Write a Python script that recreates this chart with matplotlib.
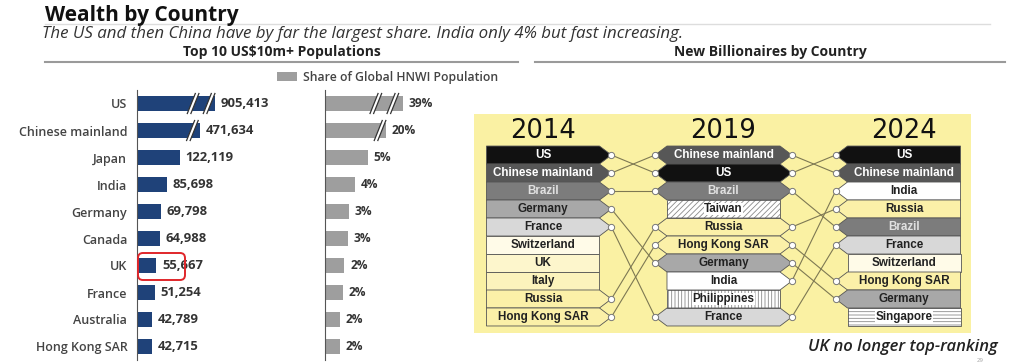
import numpy as np
import matplotlib
matplotlib.use("Agg")
import matplotlib.pyplot as plt
from matplotlib.patches import Polygon, FancyBboxPatch
from matplotlib.lines import Line2D
from matplotlib.transforms import IdentityTransform

# ---- data ----
countries = ["US", "Chinese mainland", "Japan", "India", "Germany", "Canada",
             "UK", "France", "Australia", "Hong Kong SAR"]
populations = [905413, 471634, 122119, 85698, 69798, 64988, 55667, 51254, 42789, 42715]
shares = [39, 20, 5.3, 3.7, 3.0, 2.8, 2.4, 2.2, 1.8, 1.8]

years = ["2014", "2019", "2024"]
rank_2014 = ["US", "Chinese mainland", "Brazil", "Germany", "France",
             "Switzerland", "UK", "Italy", "Russia", "Hong Kong SAR"]
rank_2019 = ["Chinese mainland", "US", "Brazil", "Taiwan", "Russia",
             "Hong Kong SAR", "Germany", "India", "Philippines", "France"]
rank_2024 = ["US", "Chinese mainland", "India", "Russia", "Brazil",
             "France", "Switzerland", "Hong Kong SAR", "Germany", "Singapore"]
rankings = [rank_2014, rank_2019, rank_2024]

# fill, text colour, hatch
box_style = {
    "US": ("#111111", "white", None),
    "Chinese mainland": ("#575757", "white", None),
    "Brazil": ("#7c7c7c", "#e0e0e0", None),
    "Germany": ("#a8a8a8", "#222222", None),
    "France": ("#d8d8d8", "#222222", None),
    "Switzerland": ("#fffbe8", "#222222", None),
    "UK": ("#fdf6cc", "#222222", None),
    "Italy": ("#fcf3bc", "#222222", None),
    "Russia": ("#fbf0a8", "#222222", None),
    "Hong Kong SAR": ("#fbf0a8", "#222222", None),
    "Taiwan": ("white", "#222222", "//////"),
    "India": ("white", "#222222", None),
    "Philippines": ("white", "#222222", "|||||"),
    "Singapore": ("white", "#222222", "-----"),
}

W, H = 1024, 364
fig = plt.figure(figsize=(W / 100, H / 100), dpi=100)
plt.rcParams["hatch.linewidth"] = 0.6


def fx(px):
    return px / W


def fy(py):
    return 1 - py / H


def broken(b, k):
    def fwd(x):
        x = np.asarray(x, float)
        return np.where(x <= b, x, b + (x - b) * k)

    def inv(y):
        y = np.asarray(y, float)
        return np.where(y <= b, y, b + (y - b) / k)
    return fwd, inv


# ---- headers ----
fig.text(fx(45), fy(15), "Wealth by Country", family="Open Sans", weight="bold",
         fontsize=15, color="#111111", va="center")
fig.text(fx(42), fy(34), "The US and then China have by far the largest share. India only 4% but fast increasing.",
         family="Open Sans", style="italic", fontsize=12.2, color="#333333", va="center")
fig.add_artist(Line2D([fx(45), fx(990)], [fy(24), fy(24)], color="#dddddd", lw=1))
fig.text(fx(282), fy(52), "Top 10 US$10m+ Populations", family="Open Sans", weight="bold",
         fontsize=10, color="#222222", ha="center", va="center")
fig.text(fx(770), fy(52), "New Billionaires by Country", family="Open Sans", weight="bold",
         fontsize=10, color="#222222", ha="center", va="center")
fig.add_artist(Line2D([fx(45), fx(518)], [fy(62), fy(62)], color="#9a9a9a", lw=1.5))
fig.add_artist(Line2D([fx(535), fx(1005)], [fy(62), fy(62)], color="#9a9a9a", lw=1.5))

# ---- left bar charts ----
ypos = np.arange(len(countries))
ax1 = fig.add_axes([fx(137), fy(360), 120 / W, 270 / H])
ax2 = fig.add_axes([fx(325), fy(360), 120 / W, 270 / H])

ax1.set_xscale("function", functions=broken(150000, 0.097))
ax2.set_xscale("function", functions=broken(6, 0.109))

ax1.barh(ypos, populations, height=0.55, color="#1f4279")
ax2.barh(ypos, shares, height=0.55, color="#9e9e9e", label="Share of Global HNWI Population")
ax1.set_xlim(0, 2.14e6)
ax2.set_xlim(0, 86.7)

for ax in (ax1, ax2):
    ax.set_ylim(len(countries) - 0.5, -0.5)
    for s in ("top", "right", "bottom"):
        ax.spines[s].set_visible(False)
    ax.spines["left"].set_color("#555555")
    ax.set_xticks([])
    ax.patch.set_alpha(0)

ax1.set_yticks(ypos)
ax1.set_yticklabels(countries, family="Open Sans", fontsize=9, color="#444444", weight="semibold")
ax1.tick_params(axis="y", length=0, pad=7)
ax2.set_yticks([])

for i, v in enumerate(populations):
    ax1.annotate(f"{v:,}", (v, i), xytext=(4, 0), textcoords="offset points",
                 va="center", ha="left", family="Open Sans", weight="bold",
                 fontsize=9.4, color="#333333")
for i, v in enumerate(shares):
    ax2.annotate(f"{round(v)}%", (v, i), xytext=(4, 0), textcoords="offset points",
                 va="center", ha="left", family="Open Sans", weight="bold",
                 fontsize=8.6, color="#333333")


def slash(ax, v, i, dx):
    X, Y = ax.transData.transform((v, i))
    X += dx
    g = 1.8
    pts = [(X - 4 - g, Y - 10), (X - 4 + g, Y - 10), (X + 4 + g, Y + 10), (X + 4 - g, Y + 10)]
    fig.add_artist(Polygon(pts, closed=True, facecolor="white", edgecolor="none",
                           transform=IdentityTransform()))
    for s in (-g, g):
        fig.add_artist(Line2D([X - 4 + s, X + 4 + s], [Y - 10, Y + 10], color="#333333",
                              lw=0.9, transform=IdentityTransform()))


# axis breaks on the two largest bars
slash(ax1, populations[0], 0, -22)
slash(ax1, populations[0], 0, -6)
slash(ax1, populations[1], 1, -8)
slash(ax2, shares[0], 0, -27)
slash(ax2, shares[0], 0, -10)
slash(ax2, shares[1], 1, -6)

leg = fig.legend(loc="center left", bbox_to_anchor=(fx(266), fy(77)), frameon=False,
                 handlelength=1.6, handleheight=0.8, handletextpad=0.5,
                 prop={"family": "Open Sans", "size": 8.8, "weight": "semibold"})
for t in leg.get_texts():
    t.set_color("#444444")

# red highlight around UK
fig.add_artist(FancyBboxPatch((1.38, (H - 280) / 100), 0.47, 0.27,
                              boxstyle="round,pad=0,rounding_size=0.05",
                              transform=fig.dpi_scale_trans, facecolor="none",
                              edgecolor="#e0262a", lw=1.4))

# ---- bump chart ----
axb = fig.add_axes([fx(474), fy(333), 497 / W, 219 / H])
axb.set_facecolor("#faf1a3")
axb.set_xlim(-0.382, 2.371)
axb.set_ylim(9.89, -2.28)
axb.set_xticks([])
axb.set_yticks([])
for s in axb.spines.values():
    s.set_visible(False)

hw, tip = 0.313, 0.066
for c, ranking in enumerate(rankings):
    axb.text(c, -1.33, years[c], ha="center", va="center", fontsize=18.5,
             color="#111111", family="DejaVu Sans")
    prev = rankings[c - 1] if c > 0 else []
    nxt = rankings[c + 1] if c < len(rankings) - 1 else []
    for r, name in enumerate(ranking):
        fill, tc, hatch = box_style[name]
        x0, x1 = c - hw, c + hw
        pts = [(x0, r - 0.5), (x1, r - 0.5)]
        if name in nxt:
            pts.append((x1 + tip, r))
        pts += [(x1, r + 0.5), (x0, r + 0.5)]
        if name in prev:
            pts.append((x0 - tip, r))
        if hatch:
            axb.add_patch(Polygon(pts, closed=True, facecolor=fill, edgecolor="#8a8a8a",
                                  hatch=hatch, lw=0, zorder=2))
            axb.add_patch(Polygon(pts, closed=True, facecolor="none", edgecolor="#555555",
                                  lw=0.6, zorder=2.1))
        else:
            axb.add_patch(Polygon(pts, closed=True, facecolor=fill, edgecolor="#555555",
                                  lw=0.6, zorder=2))
        axb.text(c, r, name, ha="center", va="center", fontsize=8.4, weight="bold",
                 family="Liberation Sans", color=tc, zorder=3,
                 bbox=dict(facecolor=fill, edgecolor="none", pad=0.3) if hatch else None)
        if name in nxt:
            r2 = nxt.index(name)
            xa, xb = x1 + tip, c + 1 - hw - tip
            axb.plot([xa, xb], [r, r2], color="#7d7853", lw=0.8, zorder=1)
            axb.plot([xa, xb], [r, r2], "o", ms=4.5, mfc="white", mec="#777777",
                     mew=0.7, zorder=4, ls="none")

fig.text(fx(998), fy(347), "UK no longer top-ranking", family="Open Sans", style="italic",
         weight="semibold", fontsize=12, color="#222222", ha="right", va="center")
fig.text(fx(980), fy(360), "29", fontsize=4, color="#aaaaaa", ha="center", va="center")

fig.savefig("out.png", dpi=100)
